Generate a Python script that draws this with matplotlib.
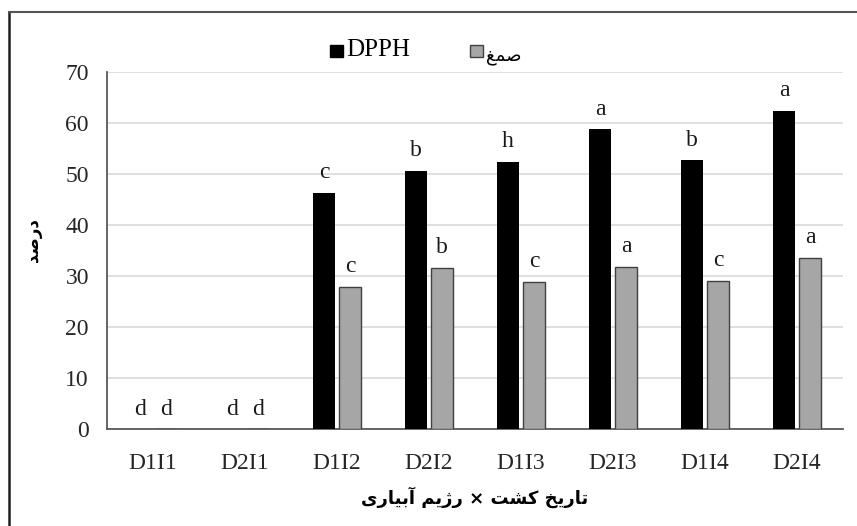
import matplotlib
matplotlib.use("Agg")
import matplotlib.pyplot as plt
from matplotlib.lines import Line2D
from matplotlib.patches import Patch
import numpy as np

# data
categories = ["D1I1", "D2I1", "D1I2", "D2I2", "D1I3", "D2I3", "D1I4", "D2I4"]
dpph = [0, 0, 46.3, 50.6, 52.4, 58.8, 52.7, 62.4]
gum = [0, 0, 27.9, 31.6, 28.9, 31.8, 29.1, 33.6]
dpph_letters = ["d", "d", "c", "b", "h", "a", "b", "a"]
gum_letters = ["d", "d", "c", "b", "c", "a", "c", "a"]
yticks = [0, 10, 20, 30, 40, 50, 60, 70]

# Persian labels, written in presentation forms (visual order) so they join
gum_label = "\uFECE\uFEE4\uFEBB"                      # صمغ
ylabel = "\uFEAA\uFEBB\uFEAD\uFEA9"                   # درصد
xlabel = ("\uFBFC\uFEAD\uFE8E\uFBFF\uFE91\uFE81 \uFEE2\uFBFE\uFB8A\uFEAD"
          " \u00D7 \uFE96\uFEB8\uFB90 \uFEA6\uFBFE\uFEAD\uFE8E\uFE97")  # تاریخ کشت × رژیم آبیاری

serif = "Liberation Serif"
fs = 17

fig = plt.figure(figsize=(8.57, 5.26), dpi=100)
ax = fig.add_axes([0.1249, 0.1838, 0.9837 - 0.1249, 0.8631 - 0.1838])

x = np.arange(len(categories))
off = 0.14
w = 0.24
ax.bar(x - off, dpph, w, color="black", zorder=3)
ax.bar(x + off, gum, w, color="#a6a6a6", edgecolor="#404040", linewidth=1, zorder=3)

for xi, v, t in zip(x, dpph, dpph_letters):
    ax.annotate(t, (xi - off, v), xytext=(0, 10.5), textcoords="offset points",
                ha="center", va="baseline", fontsize=fs, family=serif, color="#1a1a1a")
for xi, v, t in zip(x, gum, gum_letters):
    ax.annotate(t, (xi + off, v), xytext=(0, 10.5), textcoords="offset points",
                ha="center", va="baseline", fontsize=fs, family=serif, color="#1a1a1a")

ax.set_xlim(-0.5, len(categories) - 0.5)
ax.set_ylim(0, 70)
ax.set_yticks(yticks)
ax.set_xticks(x)
ax.set_xticklabels(categories, family=serif, fontsize=fs, color="#262626")
for lab in ax.get_yticklabels():
    lab.set_family(serif)
    lab.set_fontsize(fs)
    lab.set_color("#262626")
ax.tick_params(axis="x", length=0, pad=17)
ax.tick_params(axis="y", length=0, pad=13)

ax.grid(axis="y", color="#d9d9d9", linewidth=1.2, zorder=0)
ax.set_axisbelow(True)
for s in ["top", "right"]:
    ax.spines[s].set_visible(False)
for s in ["left", "bottom"]:
    ax.spines[s].set_color("#595959")
    ax.spines[s].set_linewidth(1.3)

fig.text(0.038, 0.543, ylabel, rotation=90, ha="center", va="center",
         fontsize=12, fontweight="bold", family="DejaVu Sans")
fig.text(0.554, 0.055, xlabel, ha="center", va="center",
         fontsize=13, fontweight="semibold", family="DejaVu Sans")

handles = [Patch(facecolor="black", edgecolor="black"),
           Patch(facecolor="#a6a6a6", edgecolor="#404040")]
leg = fig.legend(handles, ["DPPH", gum_label], loc="center", ncol=2,
                 bbox_to_anchor=(0.497, 0.905), frameon=False,
                 handlelength=0.9, handleheight=0.9, handletextpad=0.25,
                 columnspacing=4.3)
leg.get_texts()[0].set_family(serif)
leg.get_texts()[0].set_fontsize(fs + 1)
leg.get_texts()[1].set_family("DejaVu Sans")
leg.get_texts()[1].set_fontsize(13)
leg.get_texts()[1].set_verticalalignment("center")

# outer frame: only left and top edges are visible in the picture
fig.add_artist(Line2D([0.0105, 0.0105], [0.0, 0.977], color="#202020", lw=1.8))
fig.add_artist(Line2D([0.0105, 1.0], [0.977, 0.977], color="#555555", lw=1.5))

fig.savefig("out.png", dpi=100)
